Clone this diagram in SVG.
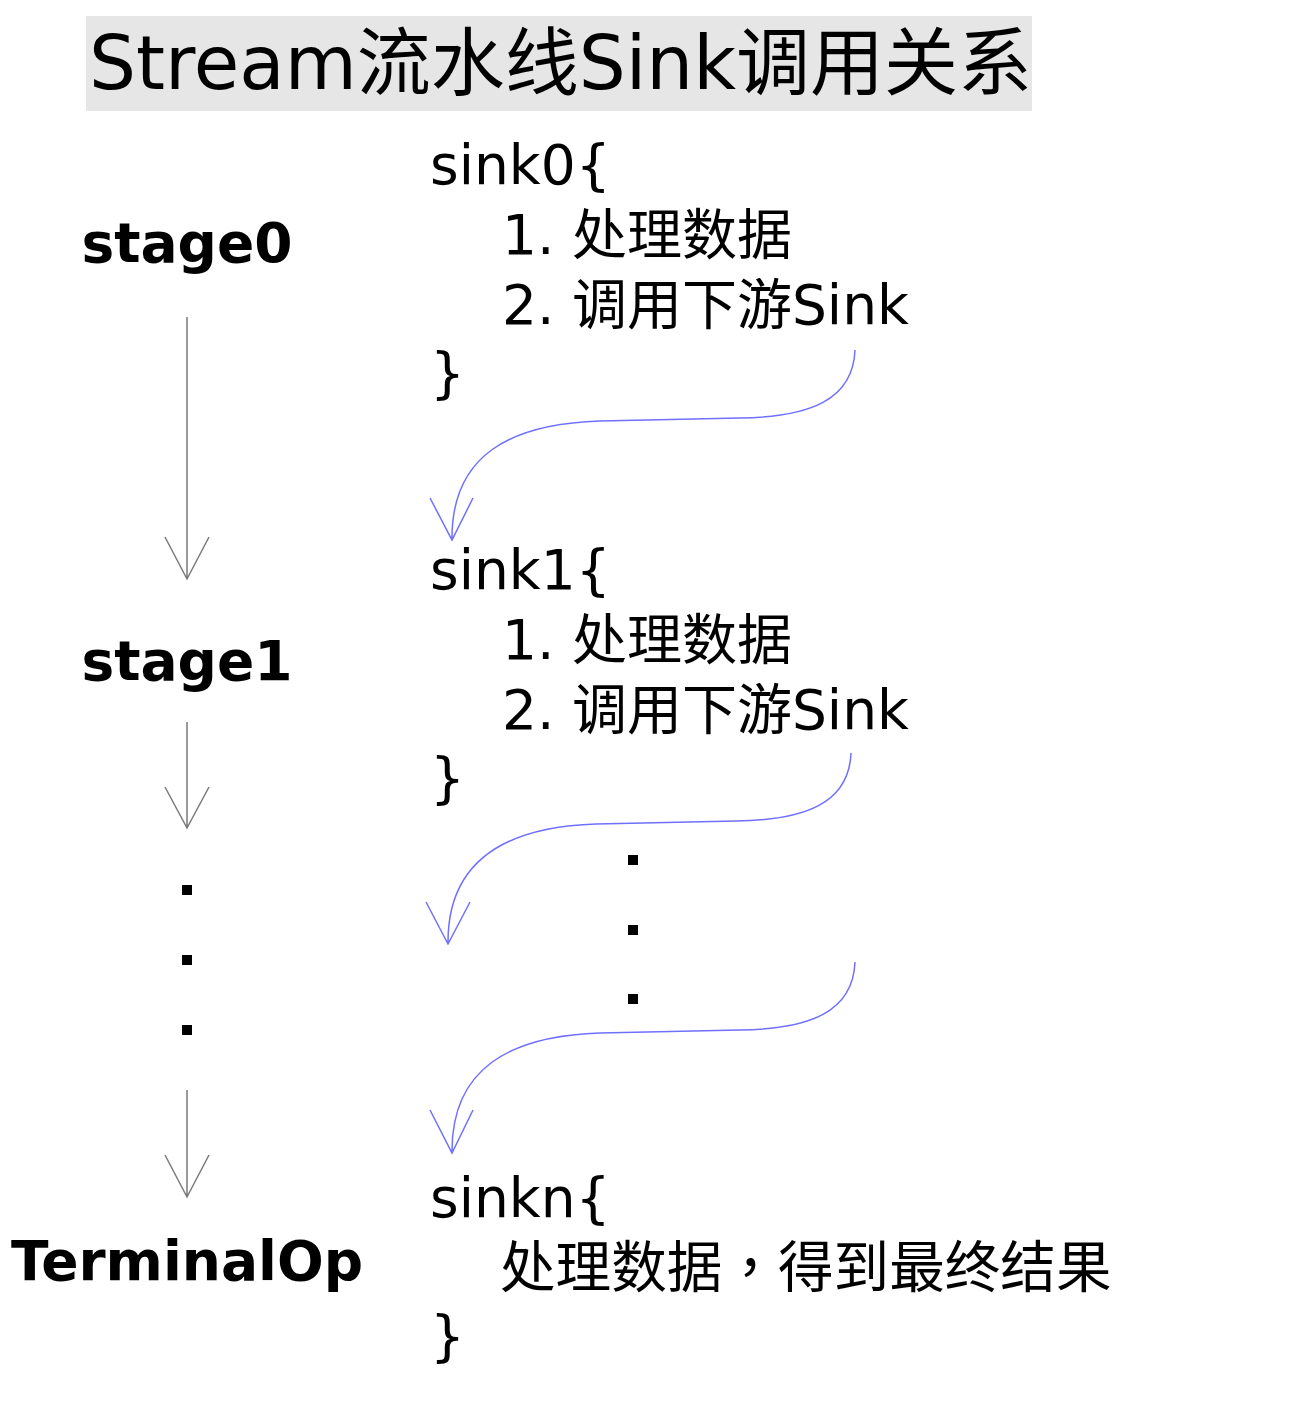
<svg xmlns="http://www.w3.org/2000/svg" width="1316" height="1410" viewBox="0 0 1316 1410">
<defs>
<style>
.t{font-family:"DejaVu Sans","Noto Sans CJK SC",sans-serif;fill:#000}
.code{font-size:55px}
.lbl{font-size:55px;font-weight:bold;text-anchor:middle}
.gray{fill:none;stroke:#7a7a7a;stroke-width:1.5}
.blue{fill:none;stroke:#7070ff;stroke-width:1.5}
</style>
</defs>
<rect width="1316" height="1410" fill="#fff"/>
<g id="title">
<rect x="86" y="16" width="946" height="95" fill="#e6e6e6"/>
<text class="t" x="89" y="89" font-size="74">Stream流水线Sink调用关系</text>
</g>
<g id="stage0"><text class="t lbl" x="187" y="262">stage0</text></g>
<g id="stage1"><text class="t lbl" x="187" y="680">stage1</text></g>
<g id="terminalop"><text class="t lbl" x="187" y="1280">TerminalOp</text></g>
<g id="stage-dots">
<rect x="182" y="885" width="10" height="10"/>
<rect x="182" y="955" width="10" height="10"/>
<rect x="182" y="1025" width="10" height="10"/>
</g>
<g id="sink0" class="t code">
<text x="430" y="184">sink0{</text>
<text x="502" y="254">1. 处理数据</text>
<text x="502" y="324">2. 调用下游Sink</text>
<text x="430" y="392">}</text>
</g>
<g id="sink1" class="t code">
<text x="430" y="589">sink1{</text>
<text x="502" y="659">1. 处理数据</text>
<text x="502" y="729">2. 调用下游Sink</text>
<text x="430" y="797">}</text>
</g>
<g id="sink-dots">
<rect x="628" y="855" width="10" height="10"/>
<rect x="628" y="925" width="10" height="10"/>
<rect x="628" y="994" width="10" height="10"/>
</g>
<g id="sinkn" class="t code">
<text x="430" y="1217">sinkn{</text>
<text x="500" y="1287" font-size="55.6">处理数据<tspan font-family="'Noto Sans CJK TC',sans-serif">，</tspan>得到最终结果</text>
<text x="430" y="1355">}</text>
</g>
<g id="connectors">
<path class="gray" d="M187,317 V579 M165,537 L187,579 L209,537"/>
<path class="gray" d="M187,722 V828 M165,787 L187,828 L209,787"/>
<path class="gray" d="M187,1090 V1197 M165,1155 L187,1197 L209,1155"/>
<path class="blue" d="M855,350 C853,400 810,417 740,418 L600,421 C510,424 452,455 452,538 M430,498 L452,540 L473,498"/>
<path class="blue" d="M851,753 C849,803 806,820 736,821 L596,824 C506,827 448,860 448,942 M426,902 L448,944 L470,902"/>
<path class="blue" d="M855,962 C853,1012 810,1029 740,1030 L600,1033 C510,1036 452,1068 452,1151 M430,1110 L452,1153 L473,1110"/>
</g>
</svg>
